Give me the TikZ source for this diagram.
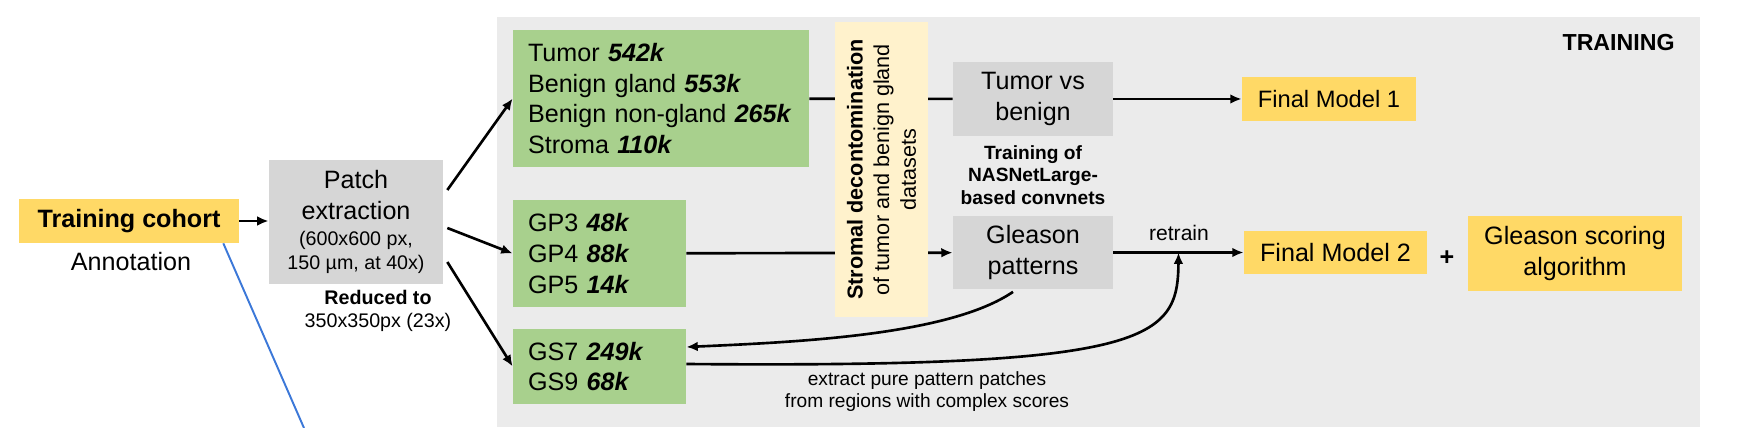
\documentclass[tikz,border=0pt]{standalone}
\usepackage{fontspec}
\setmainfont{Liberation Sans}
\usetikzlibrary{arrows.meta,positioning,calc}
\definecolor{panel}{HTML}{EBEBEB}
\definecolor{gold}{HTML}{FFD966}
\definecolor{leaf}{HTML}{A8D08D}
\definecolor{ash}{HTML}{D6D6D6}
\definecolor{cream}{HTML}{FFF2CC}
\definecolor{cobalt}{HTML}{3C78D8}
\newcommand{\bigtxt}{\fontsize{14.3pt}{17.6pt}\selectfont}
\newcommand{\midtxt}{\fontsize{12.3pt}{15.2pt}\selectfont}
\newcommand{\smalltxt}{\fontsize{11.2pt}{13.4pt}\selectfont}
\newcommand{\patchcount}[1]{\textbf{\textit{#1}}}
\tikzset{
  modelbox/.style={rectangle, fill=gold, inner sep=0pt, font=\bigtxt, align=center},
  stepbox/.style={rectangle, fill=ash, inner sep=0pt, font=\bigtxt, align=center,
    minimum width=3.2cm, minimum height=1.48cm},
  countbox/.style={rectangle, fill=leaf, inner xsep=0.3cm, inner ysep=0pt,
    font=\bigtxt, align=left, text width=#1},
  countbox/.default=2.86cm,
  flowline/.style={line width=1.5pt, color=black},
  flowarrow/.style={-{Latex[length=6.5pt,width=5.5pt]}, line width=1.5pt},
  notetext/.style={font=\smalltxt, align=center, inner sep=0pt},
}

\begin{document}
\begin{tikzpicture}[x=0.02cm, y=-0.02cm]
  \useasboundingbox (0,0) rectangle (1751,428);
  \fill[panel] (497,17) rectangle (1700,427);
  \node[modelbox, minimum width=4.4cm, minimum height=0.88cm, font=\bigtxt\bfseries] (cohort) at (129,221) {Training cohort};
  \node[font=\bigtxt, inner sep=0pt] (annot) at (131,262) {Annotation};
  \node[stepbox, minimum width=3.48cm, minimum height=2.48cm] (patch) at (356,222) {Patch\\extraction\\[-2.5pt]\smalltxt (600x600 px,\\[-4pt]\smalltxt 150 µm, at 40x)};
  \node[notetext] (reduced) at (378,311) {\textbf{Reduced to}\\350x350px (23x)};
  \node[countbox=5.32cm, minimum height=2.74cm] (tissue) at (661,98.5) {Tumor \patchcount{542k}\\Benign gland \patchcount{553k}\\Benign non-gland \patchcount{265k}\\Stroma \patchcount{110k}};
  \node[countbox, minimum height=2.14cm] (gp) at (599.5,253.5) {GP3 \patchcount{48k}\\GP4 \patchcount{88k}\\GP5 \patchcount{14k}};
  \node[countbox, minimum height=1.5cm] (gs) at (599.5,366.5) {GS7 \patchcount{249k}\\GS9 \patchcount{68k}};
  \node[stepbox] (tvb) at (1033,99) {Tumor vs\\benign};
  \node[notetext, font=\fontsize{10.9pt}{13pt}\selectfont\bfseries] (nasnet) at (1033,175) {Training of\\NASNetLarge-\\based convnets};
  \node[stepbox] (gleason) at (1033,252.5) {Gleason\\patterns};
  \node[modelbox, minimum width=3.48cm, minimum height=0.88cm, font=\fontsize{13.5pt}{16pt}\selectfont] (fm1) at (1329,99) {Final Model 1};
  \node[modelbox, minimum width=3.66cm, minimum height=0.86cm] (fm2) at (1335.5,252.5) {Final Model 2};
  \node[font=\bigtxt\bfseries, inner sep=0pt] (plus) at (1447,258) {+};
  \node[modelbox, minimum width=4.28cm, minimum height=1.5cm] (gsa) at (1575,253.5) {Gleason scoring\\algorithm};
  \node[font=\fontsize{13.2pt}{16pt}\selectfont\bfseries, anchor=east, inner sep=0pt] (training) at (1675,43) {TRAINING};
  \node[notetext, font=\fontsize{12pt}{14pt}\selectfont] (retrain) at (1179,233) {retrain};
  \node[notetext, font=\fontsize{10.9pt}{12.5pt}\selectfont] (extract) at (927,392) {extract pure pattern patches\\from regions with complex scores};
  \coordinate (cut) at (304,428);
  \draw[flowarrow] (cohort) -- (cohort -| patch.west);
  \draw[cobalt, line width=1.1pt] ($(cohort.south east)+(-16,0)$) -- (cut);
  \draw[flowarrow] ($(patch.east)+(4,-32)$) -- (tissue.west);
  \draw[flowarrow] ($(patch.east)+(4,6)$) -- (gp.west);
  \draw[flowarrow] ($(patch.east)+(4,40)$) -- (gs.west);
  \draw[flowline] (tissue) -- (tvb);
  \draw[flowarrow] (gp) -- (gleason);
  \node[rectangle, fill=cream, rotate=90, minimum width=5.9cm, minimum height=1.86cm, inner sep=0pt, align=center, font=\midtxt] (decon) at (881.5,169.5) {\textbf{Stromal decontomination}\\of tumor and benign gland\\datasets};
  \draw[flowarrow] (tvb) -- (fm1);
  \draw[flowarrow] (gleason) -- (fm2);
  \coordinate (merge) at ($(gleason.east)!0.5!(fm2.west)$);
  \draw[flowarrow] ($(gs.east)+(0,-2.5)$) .. controls (1150,368) and (1178,340) .. (merge);
  \draw[flowarrow] ($(gleason.south)+(-20,2)$) .. controls (950,335) and (800,342) .. ($(gs.east)+(0,-19.5)$);
\end{tikzpicture}
\end{document}
